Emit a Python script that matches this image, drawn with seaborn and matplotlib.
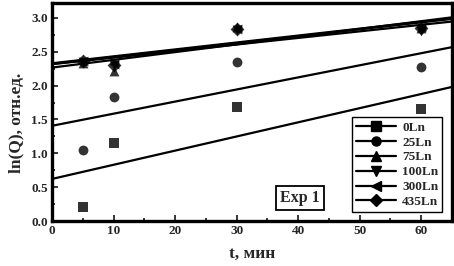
import numpy as np
import pandas as pd
import seaborn as sns
import matplotlib.pyplot as plt
from matplotlib.lines import Line2D
from matplotlib.ticker import MultipleLocator

# Data
t = [5, 10, 30, 60]
series = ['0Ln', '25Ln', '75Ln', '100Ln', '300Ln', '435Ln']
markers = ['s', 'o', '^', 'v', '<', 'D']
q_0 = [0.20, 1.15, 1.68, 1.65]
q_25 = [1.05, 1.83, 2.35, 2.27]
q_75 = [2.33, 2.22, 2.86, 2.85]
q_100 = [2.35, 2.30, 2.82, 2.81]
q_300 = [2.37, 2.32, 2.84, 2.86]
q_435 = [2.36, 2.31, 2.83, 2.85]
values = [q_0, q_25, q_75, q_100, q_300, q_435]

df = pd.DataFrame({
    't': t * len(series),
    'lnQ': sum(values, []),
    'sample': [s for s in series for _ in t],
})

sns.set_style('ticks')
plt.rcParams['font.family'] = ['Liberation Serif', 'DejaVu Serif']
plt.rcParams['font.weight'] = 'bold'

fig = plt.figure(figsize=(4.54, 2.66), dpi=100)
ax = fig.add_axes([0.1145, 0.169, 0.881, 0.82])
ax.set_xlim(0, 65)
ax.set_ylim(0, 3.22)

for s, m in zip(series, markers):
    sub = df[df['sample'] == s]
    sns.regplot(x='t', y='lnQ', data=sub, ax=ax, ci=None, truncate=False,
                marker=m, color='black',
                scatter_kws={'s': 50, 'linewidths': 0},
                line_kws={'lw': 1.6})

ax.set_xlabel('t, мин', fontsize=12.5, fontweight='bold', labelpad=6)
ax.set_ylabel('ln(Q), отн.ед.', fontsize=12.5, fontweight='bold')
ax.yaxis.set_label_coords(-0.068, 0.45)
ax.xaxis.set_major_locator(MultipleLocator(10))
ax.xaxis.set_minor_locator(MultipleLocator(5))
ax.yaxis.set_major_locator(MultipleLocator(0.5))
ax.yaxis.set_minor_locator(MultipleLocator(0.25))
ax.yaxis.set_major_formatter(plt.FormatStrFormatter('%.1f'))
ax.tick_params(which='both', direction='in', width=1.3, labelsize=9.5,
               top=False, right=False)
ax.tick_params(which='major', length=4, pad=3)
ax.tick_params(which='minor', length=2.5)
for lab in ax.get_xticklabels() + ax.get_yticklabels():
    lab.set_fontweight('bold')
for sp in ax.spines.values():
    sp.set_linewidth(2.4)
    sp.set_color('black')

handles = [Line2D([], [], color='black', lw=1.6, marker=m, markersize=6.5)
           for m in markers]
leg = ax.legend(handles, series, loc='upper left', bbox_to_anchor=(0.75, 0.475),
                borderaxespad=0, fancybox=False, framealpha=1,
                edgecolor='black', fontsize=9.5, handlelength=3.0,
                handletextpad=0.5, labelspacing=0.2, borderpad=0.3)
leg.get_frame().set_linewidth(1.0)
for txt in leg.get_texts():
    txt.set_fontweight('bold')

ax.text(0.62, 0.105, 'Exp 1', transform=ax.transAxes, ha='center', va='center',
        fontsize=11.5, fontweight='bold',
        bbox=dict(boxstyle='square,pad=0.25', fc='white', ec='black', lw=1.3))

fig.savefig('out.png', dpi=100)
